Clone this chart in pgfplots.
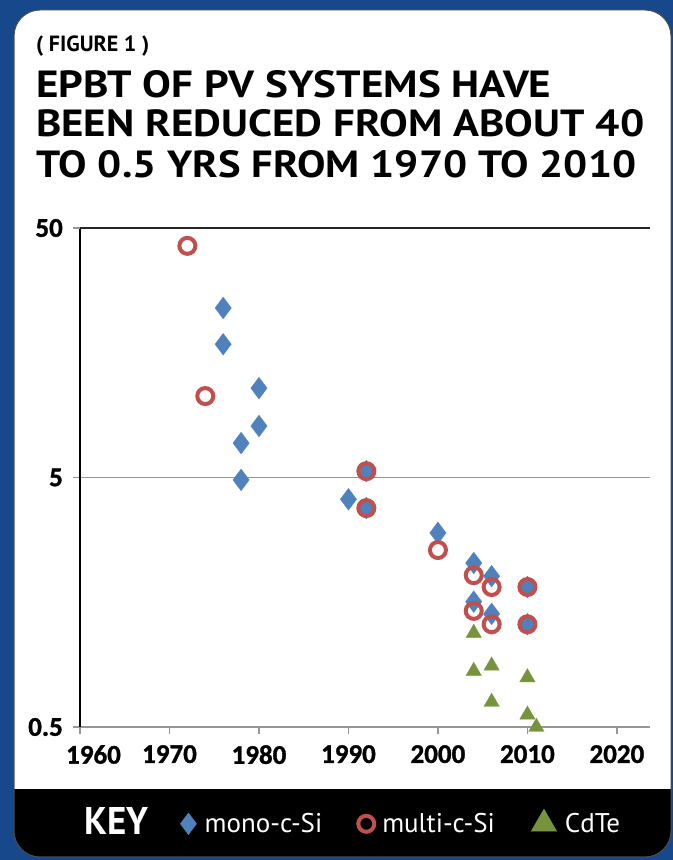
\documentclass[border=0pt]{standalone}
\usepackage{pgfplots}
\pgfplotsset{compat=1.18}
\usepackage{fontspec}
\setmainfont{PT Sans}
\newfontfamily\tickfont[BoldFeatures={FakeBold=1.2}]{Carlito}
\newcommand\tickfmt{\tickfont\bfseries\fontsize{27bp}{29bp}\selectfont}
\newcommand\tl[1]{\mbox{\tickfmt #1}}
\newcommand\legfmt{\fontsize{27bp}{29bp}\selectfont}
\definecolor{bgblue}{RGB}{24,72,140}
\definecolor{monoblue}{RGB}{79,129,189}
\definecolor{multired}{RGB}{192,80,77}
\definecolor{cdteg}{RGB}{119,147,60}
\definecolor{axgray}{RGB}{150,150,150}
\begin{document}
\begin{tikzpicture}[x=1bp,y=1bp]
\path[use as bounding box] (0,0) rectangle (673,860);
\fill[bgblue] (0,0) rectangle (673,860);
\begin{scope}
\clip[rounded corners=26bp] (14,3) rectangle (671,850);
\fill[white] (14,3) rectangle (671,850);
\fill[black] (14,3) rectangle (671,71);
\end{scope}
\draw[black!70, line width=1bp, rounded corners=26bp] (14,3) rectangle (671,850);
\node[anchor=base west, inner sep=0pt] at (36,808) {\resizebox{113bp}{!}{\bfseries\fontsize{19bp}{19bp}\selectfont ( FIGURE 1 )}};
\node[anchor=base west, inner sep=0pt] at (36,762) {\resizebox{515bp}{27bp}{\bfseries EPBT OF PV SYSTEMS HAVE}};
\node[anchor=base west, inner sep=0pt] at (36,723) {\resizebox{608bp}{27bp}{\bfseries BEEN REDUCED FROM ABOUT 40}};
\node[anchor=base west, inner sep=0pt] at (36,682) {\resizebox{600bp}{27bp}{\bfseries TO 0.5 YRS FROM 1970 TO 2010}};
\node[anchor=base west, inner sep=0pt, text=white] at (84,25) {\resizebox{64bp}{27bp}{\bfseries KEY}};
\begin{axis}[
  at={(80bp,133bp)}, anchor=south west,
  scale only axis, width=570bp, height=499bp,
  xmin=1960, xmax=2023.7,
  ymode=log, ymin=0.5, ymax=50,
  axis lines=left, axis line style={-},
  x axis line style={axgray, line width=1.5bp},
  y axis line style={black, line width=2bp},
  tick align=outside, major tick length=7bp,
  xtick={1960,1970,1980,1990,2000,2010,2020},
  xticklabels={\tl{\hspace*{27bp}1960},\tl{1970},\tl{1980},\tl{1990},\tl{2000},\tl{2010},\tl{2020}},
  x tick style={axgray, line width=1.5bp},
  ytick={0.5,5}, yticklabels={\tl{0.5},\tl{5}},
  extra y ticks={50}, extra y tick labels={\tl{50}},
  extra y tick style={tick style={black, line width=1.5bp}, major grid style={black!85, line width=1.8bp}},
  ymajorgrids, major grid style={axgray, line width=1.5bp},
  y tick style={axgray, line width=1.5bp},
  yminorticks=false, minor y tick num=0,
  tick label style={inner sep=0pt},
  every x tick label/.append style={inner sep=0pt, anchor=north, yshift=-11bp},
  every y tick label/.append style={inner sep=0pt, anchor=east, xshift=-10bp},
  legend image code/.code={\draw[#1] plot coordinates {(0bp,0bp)};},
  legend style={at={(axis description cs:0.1754,-0.19)}, anchor=west, draw=none, fill=none,
    text=white, font=\legfmt, inner sep=0pt, nodes={inner sep=0pt},
    /tikz/every odd column/.append style={column sep=8bp},
    /tikz/every even column/.append style={column sep=36bp}},
  legend columns=3, legend cell align=left,
]
\addplot[only marks, mark=diamond*, mark size=11bp, mark options={fill=monoblue, draw=monoblue, line width=0.1bp}] coordinates {
(1976,23.9) (1976,17.1) (1980,11.4) (1980,8.04) (1978,6.87) (1978,4.89)
(1990,4.09) (1992,5.3) (1992,3.77) (2000,3.0) (2004,2.27) (2006,2.01)
(2004,1.59) (2006,1.42) (2010,1.82) (2010,1.29)
};
\addlegendentry{mono-c-Si}
\addplot[only marks, mark=o, mark size=8bp, mark options={draw=multired, line width=4bp}] coordinates {
(1972,42.4) (1974,10.6) (1992,5.3) (1992,3.77) (2000,2.56) (2004,2.03)
(2006,1.82) (2010,1.82) (2004,1.46) (2006,1.29) (2010,1.29)
};
\addlegendentry{multi-c-Si}
\addplot[only marks, mark=triangle*, mark size=9bp, mark options={fill=cdteg, draw=cdteg, line width=0.1bp}, legend image post style={mark size=15bp}] coordinates {
(2004,1.19) (2004,0.838) (2006,0.88) (2006,0.63) (2010,0.79) (2010,0.56) (2011,0.5)
};
\addlegendentry{CdTe}
\end{axis}
\end{tikzpicture}
\end{document}
